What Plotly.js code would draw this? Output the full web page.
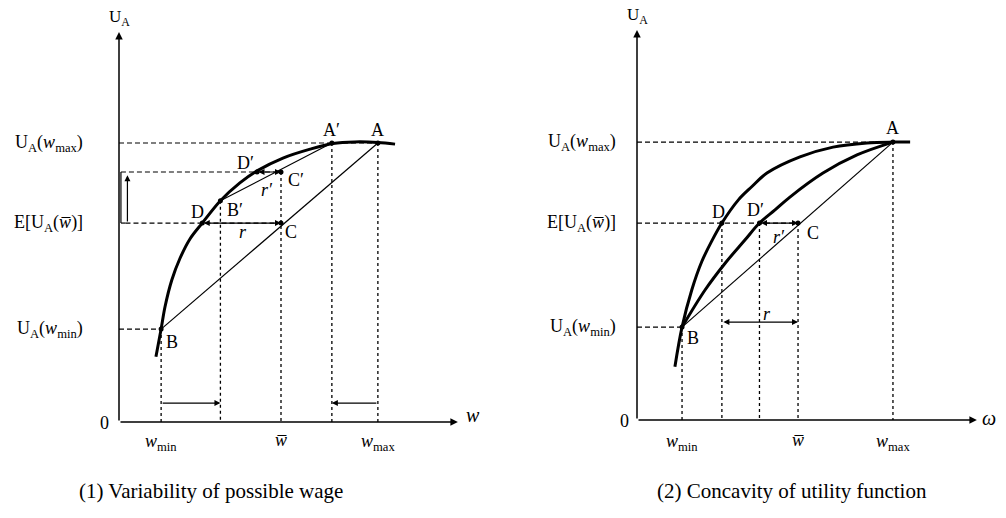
<!DOCTYPE html>
<html><head><meta charset="utf-8">
<script src="https://cdn.plot.ly/plotly-3.0.1.min.js"></script>
<style>html,body{margin:0;padding:0;background:#fff}#chart{width:1006px;height:518px}</style>
</head><body><div id="chart"></div>
<script>
// ---------- data (units) ----------
// Panel 1: variability of possible wage
const L_curveX = [11.4, 13.0, 14.2, 16.3, 18.8, 21.9, 25.7, 31.3, 37.3, 42.6, 50.6, 59.0, 66.0, 72.8, 79.9, 85.2];
const L_curveY = [23.4, 33.3, 41.3, 50.9, 58.6, 65.6, 71.3, 79.3, 85.7, 90.0, 94.6, 97.8, 99.8, 100.4, 100.2, 99.6];
const L_wages = {wMin: 13.0, wMinNew: 31.3, wBar: 50.0, wMaxNew: 65.7, wMax: 79.9};
const L_utils = {uMax: 100, uNew: 89.6, eU: 71.3, uMinNew: 79.3, uMin: 33.3};
const L_xD = 25.7, L_xDp = 42.6;
const L_shiftArrowY = 6.8;
const L_axisEnd = [104.6, 139.8];

// Panel 2: concavity of utility function
const R_outerX = [11.7, 13.9, 16.9, 20.0, 23.1, 26.2, 31.3, 35.4, 40.1, 50.3, 60.5, 71.0, 79.0, 84.3];
const R_outerY = [19.1, 33.3, 46.6, 56.8, 64.2, 70.6, 78.9, 83.6, 88.5, 94.3, 97.8, 99.3, 99.6, 99.6];
const R_innerX = [13.9, 21.0, 27.2, 33.3, 37.8, 42.6, 47.2, 57.4, 67.9, 79.0];
const R_innerY = [33.3, 46.6, 56.2, 64.5, 70.6, 75.3, 79.9, 88.5, 95.0, 99.6];
const R_wages = {wMin: 13.9, xD: 26.2, xDp: 37.8, wBar: 49.7, wMax: 79.0};
const R_utils = {uMax: 99.6, eU: 70.6, uMin: 33.3};
const R_rArrowY = 35.1;
const R_axisEnd = [104.9, 139.8];

// ---------- layout geometry ----------
const W = 1006, H = 518, PXX = 3.24, PXY = 2.79;
const LO = [119, 422], RO = [637, 420];
const FONT = "Liberation Serif";

const traces = [];
function line(xs, ys, ax, width, dash, shape) {
  traces.push({x: xs, y: ys, xaxis: ax[0], yaxis: ax[1], mode: 'lines', hoverinfo: 'skip',
    line: {color: '#000', width: width, dash: dash || 'solid', shape: shape || 'linear', smoothing: 1}});
}
function dots(xs, ys, ax) {
  traces.push({x: xs, y: ys, xaxis: ax[0], yaxis: ax[1], mode: 'markers', hoverinfo: 'skip',
    marker: {color: '#000', size: 5}});
}
const ann = [];
function arrow(x0, y0, x1, y1, ax, side, width) {
  ann.push({x: x1, y: y1, ax: x0, ay: y0, xref: ax[0], yref: ax[1], axref: ax[0], ayref: ax[1],
    text: '', showarrow: true, arrowhead: 2, arrowsize: 1, arrowwidth: width || 1.2,
    arrowcolor: '#000', arrowside: side || 'end', standoff: 0, startstandoff: 0});
}
function txt(t, x, y, ax, opt) {
  ann.push(Object.assign({x: x, y: y, xref: ax[0], yref: ax[1], text: t, showarrow: false,
    font: {family: FONT, size: 17, color: '#000'}, xanchor: 'center', yanchor: 'middle'}, opt || {}));
}
const BIG = {family: FONT, size: 18, color: '#000'};
const HD = '5px,3px', VD = '3px,3px';

// ---------- Panel 1 ----------
const LA = ['x', 'y'];
const lw = L_wages, lu = L_utils;
arrow(0, 0, L_axisEnd[0], 0, LA, 'end', 1.5);
arrow(0, 0, 0, L_axisEnd[1], LA, 'end', 1.5);
// dashed guides
line([0, lw.wMax], [lu.uMax, lu.uMax], LA, 1.2, HD);
line([0.6, lw.wBar], [lu.uNew, lu.uNew], LA, 1.2, HD);
line([2.0, lw.wBar], [lu.eU, lu.eU], LA, 1.2, HD);
line([0, lw.wMin], [lu.uMin, lu.uMin], LA, 1.2, HD);
line([lw.wMin, lw.wMin], [lu.uMin, 0], LA, 1.3, VD);
line([lw.wMinNew, lw.wMinNew], [lu.uMinNew, 0], LA, 1.3, VD);
line([lw.wBar, lw.wBar], [lu.uNew, 0], LA, 1.3, VD);
line([lw.wMaxNew, lw.wMaxNew], [lu.uMax, 0], LA, 1.3, VD);
line([lw.wMax, lw.wMax], [lu.uMax, 0], LA, 1.3, VD);
// bracket + up arrow
line([0.6, 0.6], [lu.eU, lu.uNew], LA, 1.2);
line([0.6, 2.0], [lu.eU, lu.eU], LA, 1.2);
arrow(2.6, lu.eU, 2.6, lu.uNew - 1.2, LA, 'end', 1.2);
// chords
line([lw.wMin, lw.wMax], [lu.uMin, lu.uMax], LA, 1.2);
line([lw.wMinNew, lw.wMaxNew], [lu.uMinNew, lu.uMax], LA, 1.2);
// utility curve
line(L_curveX, L_curveY, LA, 3, 'solid', 'spline');
dots([lw.wMax, lw.wMaxNew, lw.wMin, lw.wMinNew, lw.wBar, lw.wBar, L_xD, L_xDp],
     [lu.uMax, lu.uMax, lu.uMin, lu.uMinNew, lu.eU, lu.uNew, lu.eU, lu.uNew], LA);
// r arrows
arrow(L_xD, lu.eU, lw.wBar, lu.eU, LA, 'end+start', 1.2);
arrow(L_xDp, lu.uNew, lw.wBar, lu.uNew, LA, 'end+start', 1.2);
// shift arrows at bottom
arrow(lw.wMin, L_shiftArrowY, lw.wMinNew, L_shiftArrowY, LA, 'end', 1.2);
arrow(lw.wMax, L_shiftArrowY, lw.wMaxNew, L_shiftArrowY, LA, 'end', 1.2);
// point labels
txt('A′', lw.wMaxNew, lu.uMax + 4.7, LA, {font: BIG});
txt('A', lw.wMax, lu.uMax + 4.7, LA, {font: BIG});
txt('D′', L_xDp - 3.7, lu.uNew + 3.2, LA, {font: BIG});
txt('C′', lw.wBar + 4.6, lu.uNew - 2.8, LA, {font: BIG});
txt('B′', lw.wMinNew + 4.6, lu.uMinNew - 3.2, LA, {font: BIG});
txt('D', L_xD - 1.5, lu.eU + 3.9, LA, {font: BIG});
txt('C', lw.wBar + 3.1, lu.eU - 3.2, LA, {font: BIG});
txt('B', lw.wMin + 3.4, lu.uMin - 4.7, LA, {font: BIG});
txt('<i>r</i>', 38.3, lu.eU - 3.2, LA, {font: BIG});
txt('<i>r′</i>', 45.6, lu.uNew - 6.5, LA, {font: BIG});
// axis labels
txt('U<sub>A</sub>', 0.3, 144.8, LA);
txt('0', -4.6, -0.4, LA, {font: BIG});
txt('<i>w</i>', 109.2, 2.5, LA, {font: {family: FONT, size: 20, color: '#000'}});
txt('U<sub>A</sub>(<i>w</i><sub>max</sub>)', -10.5, lu.uMax, LA, {xanchor: 'right', font: BIG});
txt('E[U<sub>A</sub>(<i>w̅</i>)]', -10.5, lu.eU, LA, {xanchor: 'right', font: BIG});
txt('U<sub>A</sub>(<i>w</i><sub>min</sub>)', -10.5, lu.uMin, LA, {xanchor: 'right', font: BIG});
txt('<i>w</i><sub>min</sub>', lw.wMin, -7.2, LA, {font: BIG});
txt('<i>w̅</i>', lw.wBar, -6.5, LA, {font: BIG});
txt('<i>w</i><sub>max</sub>', lw.wMax, -7.2, LA, {font: BIG});

// ---------- Panel 2 ----------
const RA = ['x2', 'y2'];
const rw = R_wages, ru = R_utils;
arrow(0, 0, R_axisEnd[0], 0, RA, 'end', 1.5);
arrow(0, 0, 0, R_axisEnd[1], RA, 'end', 1.5);
line([0, rw.wMax], [ru.uMax, ru.uMax], RA, 1.2, HD);
line([0, rw.wBar], [ru.eU, ru.eU], RA, 1.2, HD);
line([0, rw.wMin], [ru.uMin, ru.uMin], RA, 1.2, HD);
line([rw.wMin, rw.wMin], [ru.uMin, 0], RA, 1.3, VD);
line([rw.xD, rw.xD], [ru.eU, 0], RA, 1.3, VD);
line([rw.xDp, rw.xDp], [ru.eU, 0], RA, 1.3, VD);
line([rw.wBar, rw.wBar], [ru.eU, 0], RA, 1.3, VD);
line([rw.wMax, rw.wMax], [ru.uMax, 0], RA, 1.3, VD);
line([rw.wMin, rw.wMax], [ru.uMin, ru.uMax], RA, 1.2);
line(R_outerX, R_outerY, RA, 3, 'solid', 'spline');
line(R_innerX, R_innerY, RA, 3, 'solid', 'spline');
dots([rw.wMax, rw.wMin, rw.xD, rw.xDp, rw.wBar], [ru.uMax, ru.uMin, ru.eU, ru.eU, ru.eU], RA);
arrow(rw.xDp, ru.eU, rw.wBar, ru.eU, RA, 'end+start', 1.2);
arrow(rw.xD, R_rArrowY, rw.wBar, R_rArrowY, RA, 'end+start', 1.2);
txt('A', rw.wMax, ru.uMax + 5.0, RA, {font: BIG});
txt('D', rw.xD - 1.2, ru.eU + 3.9, RA, {font: BIG});
txt('D′', rw.xDp - 1.2, ru.eU + 4.6, RA, {font: BIG});
txt('C', rw.wBar + 4.6, ru.eU - 3.6, RA, {font: BIG});
txt('B', rw.wMin + 3.4, ru.uMin - 4.0, RA, {font: BIG});
txt('<i>r</i>', 40.1, R_rArrowY + 3.0, RA, {font: BIG});
txt('<i>r′</i>', 43.8, ru.eU - 5.0, RA, {font: BIG});
txt('U<sub>A</sub>', 0.3, 144.8, RA);
txt('0', -4.0, -0.4, RA, {font: BIG});
txt('<i>ω</i>', 108.6, 0.7, RA, {font: {family: FONT, size: 20, color: '#000'}});
txt('U<sub>A</sub>(<i>w</i><sub>max</sub>)', -5.9, ru.uMax, RA, {xanchor: 'right', font: BIG});
txt('E[U<sub>A</sub>(<i>w̅</i>)]', -5.9, ru.eU, RA, {xanchor: 'right', font: BIG});
txt('U<sub>A</sub>(<i>w</i><sub>min</sub>)', -5.9, ru.uMin, RA, {xanchor: 'right', font: BIG});
txt('<i>w</i><sub>min</sub>', rw.wMin, -8.2, RA, {font: BIG});
txt('<i>w̅</i>', rw.wBar, -7.2, RA, {font: BIG});
txt('<i>w</i><sub>max</sub>', rw.wMax, -8.2, RA, {font: BIG});

// captions
const CAP = {family: FONT, size: 21, color: '#000'};
ann.push({x: 211 / W, y: 1 - 491 / H, xref: 'paper', yref: 'paper', showarrow: false,
  xanchor: 'center', yanchor: 'middle', text: '(1) Variability of possible wage', font: CAP});
ann.push({x: 792 / W, y: 1 - 491 / H, xref: 'paper', yref: 'paper', showarrow: false,
  xanchor: 'center', yanchor: 'middle', text: '(2) Concavity of utility function', font: CAP});

const hidden = {visible: false, fixedrange: true};
const layout = {
  width: W, height: H, margin: {l: 0, r: 0, t: 0, b: 0},
  paper_bgcolor: '#fff', plot_bgcolor: 'rgba(0,0,0,0)', showlegend: false,
  xaxis: Object.assign({domain: [0, 500 / W], range: [(0 - LO[0]) / PXX, (500 - LO[0]) / PXX]}, hidden),
  yaxis: Object.assign({domain: [0, 1], range: [(LO[1] - H) / PXY, LO[1] / PXY]}, hidden),
  xaxis2: Object.assign({domain: [506 / W, 1], range: [(506 - RO[0]) / PXX, (W - RO[0]) / PXX], anchor: 'y2'}, hidden),
  yaxis2: Object.assign({domain: [0, 1], range: [(RO[1] - H) / PXY, RO[1] / PXY], anchor: 'x2'}, hidden),
  annotations: ann
};
Plotly.newPlot('chart', traces, layout, {staticPlot: true, displayModeBar: false});
</script></body></html>
